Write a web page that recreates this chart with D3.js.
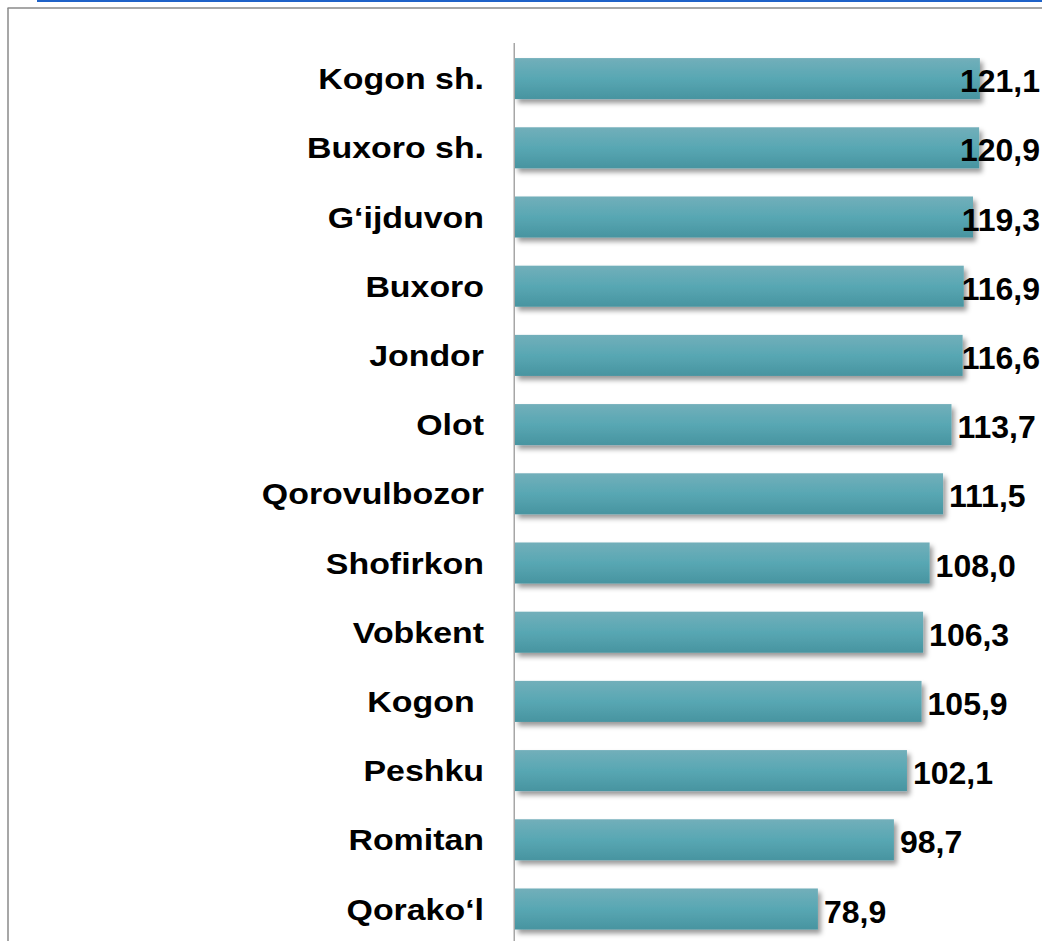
<!DOCTYPE html>
<html>
<head>
<meta charset="utf-8">
<script src="https://cdn.jsdelivr.net/npm/d3@7"></script>
<style>
  html, body { margin: 0; padding: 0; background: #fff; }
  svg { display: block; }
</style>
</head>
<body>
<svg id="chart" width="1042" height="941"></svg>
<script>
// ---- data ----
const categories = ["Kogon sh.", "Buxoro sh.", "G‘ijduvon", "Buxoro", "Jondor", "Olot",
  "Qorovulbozor", "Shofirkon", "Vobkent", "Kogon ", "Peshku", "Romitan", "Qorako‘l"];
const values = [121.1, 120.9, 119.3, 116.9, 116.6, 113.7, 111.5, 108.0, 106.3, 105.9, 102.1, 98.7, 78.9];
const valueLabels = ["121,1", "120,9", "119,3", "116,9", "116,6", "113,7", "111,5", "108,0",
  "106,3", "105,9", "102,1", "98,7", "78,9"];

const W = 1042, H = 941;
const svg = d3.select("#chart");
const defs = svg.append("defs");

const grad = defs.append("linearGradient").attr("id", "barGrad")
  .attr("x1", 0).attr("y1", 0).attr("x2", 0).attr("y2", 1);
grad.append("stop").attr("offset", "0%").attr("stop-color", "#72AFBA");
grad.append("stop").attr("offset", "50%").attr("stop-color", "#58A7B3");
grad.append("stop").attr("offset", "100%").attr("stop-color", "#4894A0");

const shadow = defs.append("filter").attr("id", "shadow")
  .attr("x", "-5%").attr("y", "-30%").attr("width", "115%").attr("height", "170%");
shadow.append("feDropShadow").attr("dx", 3).attr("dy", 4).attr("stdDeviation", 2.5)
  .attr("flood-color", "#000").attr("flood-opacity", 0.4);

// frame decorations
svg.append("rect").attr("x", 37).attr("y", 0).attr("width", W - 37).attr("height", 2).attr("fill", "#1E62C8");
svg.append("line").attr("x1", 7.5).attr("y1", 8).attr("x2", W).attr("y2", 8)
  .attr("stroke", "#8a8a8a").attr("stroke-width", 1.5);
svg.append("line").attr("x1", 8).attr("y1", 8).attr("x2", 8).attr("y2", H)
  .attr("stroke", "#8a8a8a").attr("stroke-width", 1.5);

// scales
const x = d3.scaleLinear().domain([0, 100]).range([515, 515 + 383.9]);
const y = d3.scaleBand().domain(categories).range([44, 44 + 13 * 69.2])
  .paddingInner(0.407).paddingOuter(0.2035);

// bars
svg.append("g").selectAll("rect").data(values).join("rect")
  .attr("x", x(0))
  .attr("y", (d, i) => y(categories[i]))
  .attr("width", d => x(d) - x(0))
  .attr("height", y.bandwidth())
  .attr("fill", "url(#barGrad)")
  .attr("filter", "url(#shadow)");

// axis (vertical category axis without ticks)
const axis = d3.axisLeft(y).tickSize(0).tickFormat("");
const ag = svg.append("g").attr("transform", `translate(${x(0) - 0.75},0)`).call(axis);
ag.select(".domain").attr("stroke", "#a6a6a6").attr("stroke-width", 1.5)
  .attr("d", `M0,43V${H}`);

// category labels
const catFont = 30, catScale = 1.13;
svg.append("g").selectAll("text").data(categories).join("text")
  .attr("transform", d => `translate(484,${y(d) + y.bandwidth() / 2 + catFont * 0.355}) scale(${catScale},1)`)
  .attr("text-anchor", "end")
  .style("white-space", "pre")
  .attr("font-family", "Liberation Sans, Arial, sans-serif")
  .attr("font-weight", "bold")
  .attr("font-size", catFont)
  .attr("fill", "#000")
  .text(d => d);

// value labels
const valFont = 32;
const vl = svg.append("g").selectAll("text").data(values).join("text")
  .attr("font-family", "Liberation Sans, Arial, sans-serif")
  .attr("font-weight", "bold")
  .attr("font-size", valFont)
  .attr("fill", "#000")
  .attr("y", (d, i) => y(categories[i]) + y.bandwidth() / 2 + valFont * 0.36 + 2)
  .text((d, i) => valueLabels[i]);
vl.each(function (d) {
  const w = this.getComputedTextLength();
  const px = Math.min(x(d) + 6, 1040 - w);
  d3.select(this).attr("x", px);
});
</script>
</body>
</html>
